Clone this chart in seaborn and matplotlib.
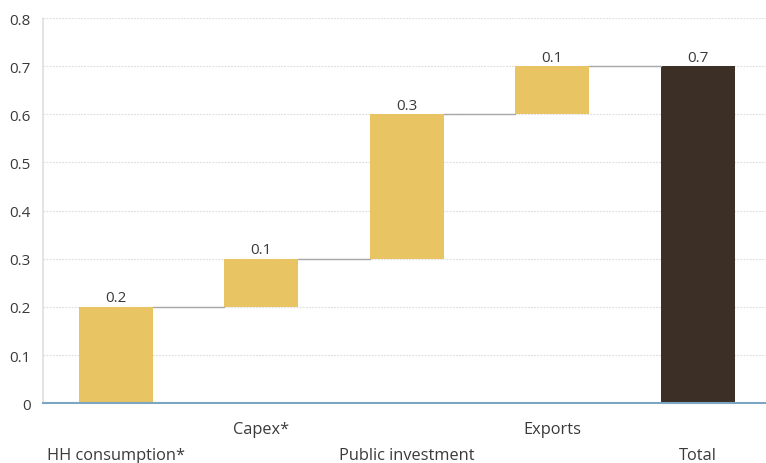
import matplotlib
matplotlib.use("Agg")
import matplotlib.pyplot as plt
import seaborn as sns
import numpy as np
import pandas as pd

categories = ["HH consumption*", "Capex*", "Public investment", "Exports", "Total"]
changes = [0.2, 0.1, 0.3, 0.1]
total = 0.7
yticks = [0, 0.1, 0.2, 0.3, 0.4, 0.5, 0.6, 0.7, 0.8]

YELLOW = "#E8C462"
DARK = "#3C2F25"
TEXT = "#3a3a3a"

sns.set_theme(style="white")
plt.rcParams["font.family"] = ["Open Sans", "DejaVu Sans"]

# waterfall layout: each step floats on the running sum, the total sits on zero
bottoms = list(np.concatenate([[0], np.cumsum(changes)[:-1]])) + [0]
heights = changes + [total]
df = pd.DataFrame({"category": categories, "height": heights, "bottom": bottoms})

fig = plt.figure(figsize=(7.66, 4.64), dpi=100)
ax = fig.add_axes([0.056, 0.129, 0.944, 0.83])

sns.barplot(data=df, x="category", y="height", bottom=df["bottom"].to_numpy(),
            color=YELLOW, width=0.51, ax=ax, saturation=1, linewidth=0)
ax.patches[-1].set_facecolor(DARK)

# connector lines between consecutive bar tops
tops = [b + h for b, h in zip(bottoms, heights)]
for i in range(len(categories) - 1):
    ax.plot([i + 0.255, i + 1 - 0.255], [tops[i], tops[i]], color="#a8a8a8",
            lw=1.0, zorder=1)

for i, (h, t) in enumerate(zip(heights, tops)):
    ax.text(i, t + 0.003, f"{h:.1f}", ha="center", va="bottom", fontsize=11,
            color=TEXT)

ax.set_ylim(0, 0.8)
ax.set_xlim(-0.5, 4.47)
ax.set_yticks(yticks)
ax.set_yticklabels(["0" if v == 0 else f"{v:.1f}" for v in yticks],
                   fontsize=11, color=TEXT)
ax.yaxis.grid(True, color="#e0e0e0", lw=0.9, ls=(0, (1.5, 1)))
ax.set_axisbelow(True)
ax.tick_params(axis="y", length=0, pad=9)

# staggered category labels
ax.set_xticks(range(len(categories)))
ax.set_xticklabels([])
ax.tick_params(axis="x", length=0)
for i, name in enumerate(categories):
    offset = -0.068 if i % 2 == 1 else -0.135
    ax.text(i, offset, name, ha="center", va="center", fontsize=11.8, color=TEXT,
            transform=ax.get_xaxis_transform(), clip_on=False)

ax.set_xlabel("")
ax.set_ylabel("")
for side in ["top", "right"]:
    ax.spines[side].set_visible(False)
ax.spines["left"].set_color("#e0e0e0")
ax.spines["left"].set_linestyle((0, (1.5, 1)))
ax.spines["bottom"].set_color("#7aa6c2")
ax.spines["bottom"].set_linewidth(1.5)

fig.savefig("out.png", dpi=100)
